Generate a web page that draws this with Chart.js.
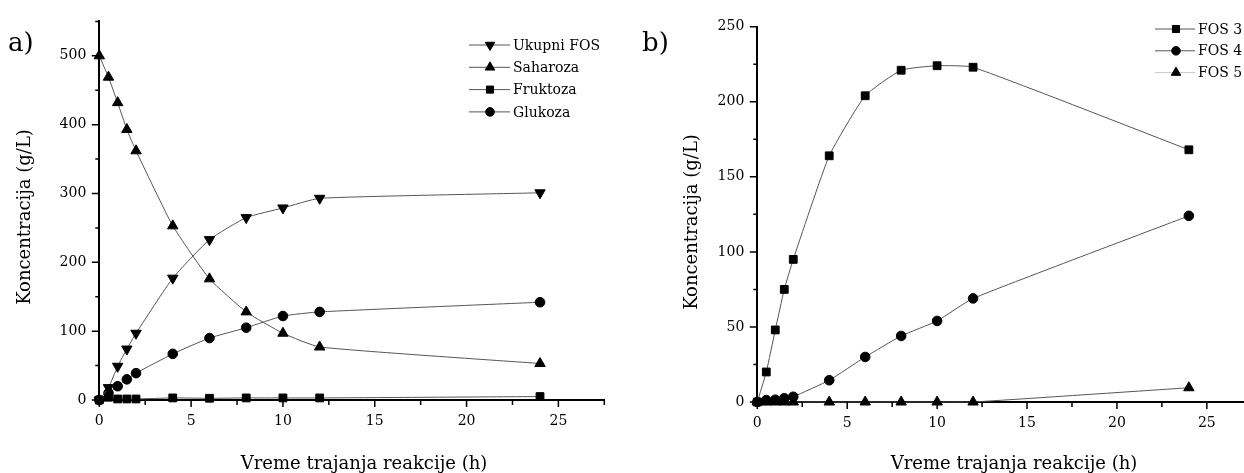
<!DOCTYPE html>
<html>
<head>
<meta charset="utf-8">
<script src="https://cdn.jsdelivr.net/npm/chart.js@4.4.1/dist/chart.umd.min.js"></script>
<style>
  html, body { margin: 0; padding: 0; background: #fff; overflow: hidden; }
  #wrap { position: relative; width: 1244px; height: 473px; overflow: hidden; }
  #boxA { position: absolute; left: 0; top: 0; }
  #boxB { position: absolute; left: 620px; top: 0; }
</style>
</head>
<body>
<div id="wrap">
  <div id="boxA"><canvas id="chartA" width="620" height="473"></canvas></div>
  <div id="boxB"><canvas id="chartB" width="640" height="473"></canvas></div>
</div>
<script>
// sampling times (h)
const hours = [0, 0.5, 1, 1.5, 2, 4, 6, 8, 10, 12, 24];

// a) sugars and total FOS (g/L)
const ukupniFos = [0, 18, 49, 74, 97, 177, 233, 265, 279, 293, 301];
const saharoza = [500, 469, 432, 393, 362, 253, 176, 128, 97, 77, 53];
const fruktoza = [0, 4, 1.5, 1.5, 1.5, 3, 2.5, 3, 3, 3, 5];
const glukoza = [0, 10, 20, 30, 39, 67, 90, 105, 122, 128, 142];

// b) individual FOS (g/L)
const fos3 = [0, 20, 48, 75, 95, 164, 204, 221, 224, 223, 168];
const fos4 = [0, 1.3, 1.5, 2.5, 3.5, 14.5, 30, 44, 54, 69, 124];
const fos5 = [0, 0, 0, 0, 0, 0, 0, 0, 0, 0, 9.5];

const xTicks = [0, 5, 10, 15, 20, 25];
const yTicksA = [0, 100, 200, 300, 400, 500];
const yTicksB = [0, 50, 100, 150, 200, 250];

const FONT = "'DejaVu Serif', serif";
const LINE = '#555';

function series(label, values, style, radius, rotation, legendLine) {
  return {
    label: label,
    data: hours.map((h, i) => ({ x: h, y: values[i] })),
    borderColor: LINE,
    borderWidth: 1,
    pointStyle: style,
    pointRadius: radius,
    pointRotation: rotation,
    pointBackgroundColor: '#000',
    pointBorderColor: '#000',
    pointBorderWidth: 1,
    tension: 0.15,
    clip: false,
    legendLine: legendLine || LINE
  };
}

// ticks with minor marks, legend with line+marker, axis titles and panel tag
function decorations(cfg) {
  return {
    id: 'decor',
    afterDraw(chart) {
      const ctx = chart.ctx;
      const xs = chart.scales.x, ys = chart.scales.y;
      const area = chart.chartArea;
      ctx.save();
      ctx.strokeStyle = '#000';
      ctx.lineWidth = 1.5;
      ctx.beginPath();
      for (let v = 0; v <= xs.max + 1e-9; v += cfg.xMinor) {
        const px = xs.getPixelForValue(v);
        const major = Math.abs(v / cfg.xMajor - Math.round(v / cfg.xMajor)) < 1e-6;
        ctx.moveTo(px, area.bottom);
        ctx.lineTo(px, area.bottom + (major ? 7 : 5));
      }
      for (let v = 0; v <= ys.max + 1e-9; v += cfg.yMinor) {
        const py = ys.getPixelForValue(v);
        const major = Math.abs(v / cfg.yMajor - Math.round(v / cfg.yMajor)) < 1e-6;
        ctx.moveTo(area.left, py);
        ctx.lineTo(area.left - (major ? 7.5 : 4), py);
      }
      ctx.stroke();

      // legend
      const lg = cfg.legend;
      ctx.font = '14px ' + FONT;
      ctx.textAlign = 'left';
      ctx.textBaseline = 'middle';
      chart.data.datasets.forEach((ds, i) => {
        const y = lg.y0 + i * lg.dy;
        ctx.strokeStyle = ds.legendLine;
        ctx.lineWidth = 1;
        ctx.beginPath();
        ctx.moveTo(lg.x1, y);
        ctx.lineTo(lg.x2, y);
        ctx.stroke();
        ctx.fillStyle = '#000';
        ctx.strokeStyle = '#000';
        Chart.helpers.drawPoint(ctx, {
          pointStyle: ds.pointStyle,
          radius: ds.pointRadius - 0.5,
          rotation: ds.pointRotation,
          borderWidth: 1
        }, lg.mx, y);
        ctx.fillStyle = '#000';
        ctx.fillText(ds.label, lg.tx, y + 1);
      });

      // panel tag
      ctx.fillStyle = '#000';
      ctx.font = '26px ' + FONT;
      ctx.textBaseline = 'alphabetic';
      ctx.fillText(cfg.tag, cfg.tagX, cfg.tagY);

      // axis titles
      ctx.font = '18px ' + FONT;
      ctx.textAlign = 'center';
      ctx.fillText('Vreme trajanja reakcije (h)', cfg.xTitleX, cfg.xTitleY);
      ctx.save();
      ctx.translate(cfg.yTitleX, cfg.yTitleY);
      ctx.rotate(-Math.PI / 2);
      ctx.textBaseline = 'middle';
      ctx.fillText('Koncentracija (g/L)', 0, 0);
      ctx.restore();
      ctx.restore();
    }
  };
}

function makeChart(id, datasets, yMax, yTicks, layout, cfg) {
  const tickFont = { family: FONT, size: 14 };
  return new Chart(document.getElementById(id), {
    type: 'line',
    data: { datasets: datasets },
    options: {
      responsive: false,
      animation: false,
      events: [],
      layout: { padding: layout.padding },
      plugins: { legend: { display: false }, tooltip: { enabled: false } },
      scales: {
        x: {
          type: 'linear',
          min: 0,
          max: 27.5,
          z: 1,
          afterBuildTicks: (s) => { s.ticks = xTicks.map(v => ({ value: v })); },
          afterFit: (s) => { s.height = layout.xHeight; },
          ticks: { font: tickFont, color: '#000', padding: 13, maxRotation: 0 },
          grid: { display: false, drawTicks: false },
          border: { display: true, color: '#000', width: 2 }
        },
        y: {
          type: 'linear',
          min: 0,
          max: yMax,
          z: 1,
          afterBuildTicks: (s) => { s.ticks = yTicks.map(v => ({ value: v })); },
          afterFit: (s) => { s.width = layout.yWidth; },
          ticks: { font: tickFont, color: '#000', padding: 13 },
          grid: { display: false, drawTicks: false },
          border: { display: true, color: '#000', width: 2 }
        }
      }
    },
    plugins: [decorations(cfg)]
  });
}

makeChart('chartA', [
  series('Ukupni FOS', ukupniFos, 'triangle', 6, 180),
  series('Saharoza', saharoza, 'triangle', 6, 0),
  series('Fruktoza', fruktoza, 'rect', 5.5, 0),
  series('Glukoza', glukoza, 'circle', 4.8, 0)
], 550, yTicksA,
  { padding: { left: 0, top: 16, right: 15.7, bottom: 0 }, yWidth: 99.3, xHeight: 73 },
  { xMinor: 2.5, xMajor: 5, yMinor: 50, yMajor: 100,
    tag: 'a)', tagX: 8, tagY: 51,
    xTitleX: 364, xTitleY: 469, yTitleX: 25, yTitleY: 217,
    legend: { x1: 469, x2: 510, mx: 490, tx: 513, y0: 45, dy: 22.3 } });

makeChart('chartB', [
  series('FOS 3', fos3, 'rect', 5.5, 0),
  series('FOS 4', fos4, 'circle', 4.8, 0),
  series('FOS 5', fos5, 'triangle', 6, 0, '#c8c8c8')
], 250, yTicksB,
  { padding: { left: 0, top: 26.7, right: 8.2, bottom: 0 }, yWidth: 137.3, xHeight: 71 },
  { xMinor: 2.5, xMajor: 5, yMinor: 25, yMajor: 50,
    tag: 'b)', tagX: 22, tagY: 51,
    xTitleX: 394, xTitleY: 469, yTitleX: 72, yTitleY: 222,
    legend: { x1: 535, x2: 575, mx: 556, tx: 578, y0: 29, dy: 21.8 } });
</script>
</body>
</html>
